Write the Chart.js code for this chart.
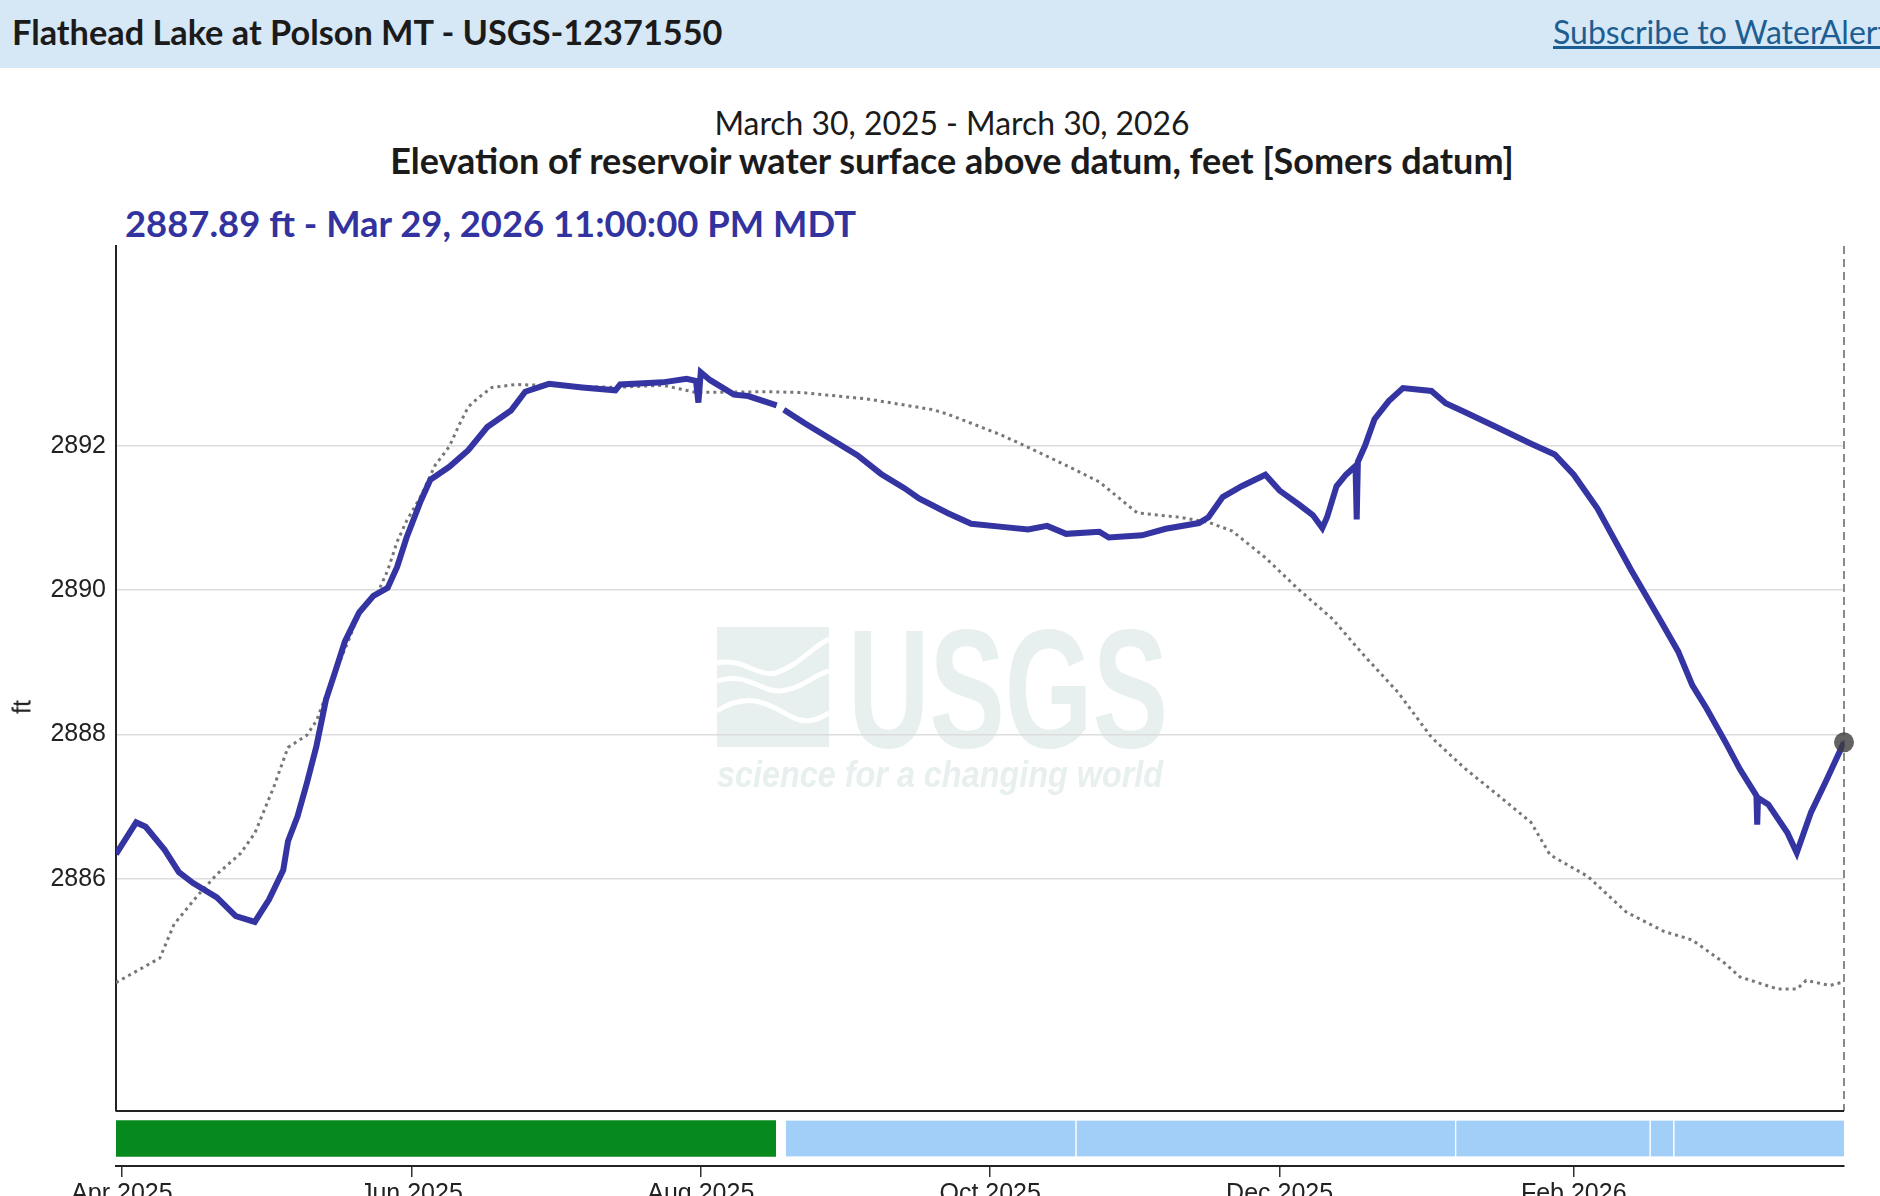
<!DOCTYPE html>
<html>
<head>
<meta charset="utf-8">
<title>Flathead Lake at Polson MT - USGS-12371550</title>
<script src="https://cdn.jsdelivr.net/npm/chart.js@4.4.1/dist/chart.umd.min.js"></script>
<style>
  html, body { margin: 0; padding: 0; background: #fff; width: 1880px; height: 1196px; overflow: hidden; font-family: Lato, "Open Sans", sans-serif; }
  #header { position: absolute; left: 0; top: 0; width: 1880px; height: 68px; background: #d6e7f6; }
  #siteName { position: absolute; left: 12px; top: 15px; font-weight: 700; font-size: 34.3px; line-height: 1; color: #1b1b1b; white-space: nowrap; }
  #subscribe { position: absolute; left: 1553px; top: 16px; font-size: 32px; line-height: 1; color: #1d5e92; text-decoration: underline; white-space: nowrap; }
  .center { position: absolute; left: 0; width: 1904px; text-align: center; line-height: 1; white-space: nowrap; color: #1b1b1b; }
  #dates { top: 108px; font-size: 31.9px; }
  #paramTitle { top: 142px; font-size: 36px; font-weight: 700; }
  #current { position: absolute; left: 125px; top: 205px; font-size: 36.4px; font-weight: 700; line-height: 1; color: #33339f; white-space: nowrap; }
  #yTitle { position: absolute; left: 22px; top: 707px; font-family: "Liberation Sans", Arial, sans-serif; font-size: 25px; line-height: 1; color: #222;
            transform: translate(-50%, -50%) rotate(-90deg); white-space: nowrap; }
  #chartBox { position: absolute; left: 0; top: 200px; width: 1880px; height: 996px; }
</style>
</head>
<body>
<div id="header">
  <div id="siteName">Flathead Lake at Polson MT - USGS-12371550</div>
  <div id="subscribe">Subscribe to WaterAlert</div>
</div>
<div id="dates" class="center">March 30, 2025 - March 30, 2026</div>
<div id="paramTitle" class="center">Elevation of reservoir water surface above datum, feet [Somers datum]</div>
<div id="current">2887.89 ft - Mar 29, 2026 11:00:00 PM MDT</div>
<div id="chartBox"><canvas id="graphCanvas" width="1880" height="996"></canvas></div>
<div id="yTitle">ft</div>

<script>
//--------------------- DATA -------------------------
// current year, lake elevation (ft)
const stageDates = [
  '2025-03-30T18:00', '2025-04-04', '2025-04-06', '2025-04-10', '2025-04-13', '2025-04-16', '2025-04-21', '2025-04-25',
  '2025-04-29', '2025-05-02', '2025-05-05', '2025-05-06', '2025-05-08', '2025-05-10', '2025-05-12', '2025-05-14',
  '2025-05-16', '2025-05-18', '2025-05-21', '2025-05-24', '2025-05-27', '2025-05-29', '2025-05-31', '2025-06-03',
  '2025-06-05', '2025-06-09', '2025-06-13', '2025-06-17', '2025-06-22', '2025-06-25', '2025-06-30', '2025-07-07',
  '2025-07-14', '2025-07-15', '2025-07-24', '2025-07-29', '2025-07-31', '2025-07-31T12:00', '2025-08-01', '2025-08-03',
  '2025-08-08', '2025-08-11', '2025-08-17', '2025-08-17T12:00', '2025-08-18T12:00', '2025-08-19', '2025-08-23', '2025-08-29',
  '2025-09-03', '2025-09-08', '2025-09-13', '2025-09-16', '2025-09-22', '2025-09-27', '2025-10-03', '2025-10-09',
  '2025-10-13', '2025-10-17', '2025-10-24', '2025-10-26', '2025-11-02', '2025-11-07', '2025-11-14', '2025-11-16',
  '2025-11-19', '2025-11-23', '2025-11-28', '2025-12-01', '2025-12-05', '2025-12-08', '2025-12-10', '2025-12-11',
  '2025-12-13', '2025-12-15', '2025-12-17', '2025-12-17T06:00', '2025-12-17T12:00', '2025-12-19', '2025-12-21', '2025-12-24',
  '2025-12-27', '2026-01-02', '2026-01-05', '2026-01-09', '2026-01-16', '2026-01-23', '2026-01-28', '2026-02-01',
  '2026-02-06', '2026-02-13', '2026-02-19', '2026-02-23', '2026-02-26', '2026-03-01', '2026-03-05', '2026-03-08',
  '2026-03-11T12:00', '2026-03-11T16:00', '2026-03-11T20:00', '2026-03-14', '2026-03-18', '2026-03-20', '2026-03-23', '2026-03-26',
  '2026-03-29T23:00'
];
const stageValues = [
  2886.34, 2886.78, 2886.72, 2886.40, 2886.09, 2885.94, 2885.74, 2885.48,
  2885.40, 2885.71, 2886.12, 2886.52, 2886.86, 2887.33, 2887.84, 2888.48,
  2888.88, 2889.29, 2889.69, 2889.92, 2890.03, 2890.32, 2890.73, 2891.24,
  2891.53, 2891.71, 2891.94, 2892.26, 2892.49, 2892.75, 2892.86, 2892.81,
  2892.77, 2892.85, 2892.88, 2892.93, 2892.90, 2892.60, 2893.02, 2892.91,
  2892.71, 2892.69, 2892.56, null, 2892.50, 2892.48, 2892.31, 2892.07,
  2891.87, 2891.61, 2891.41, 2891.27, 2891.07, 2890.92, 2890.88, 2890.84,
  2890.89, 2890.78, 2890.81, 2890.73, 2890.76, 2890.85, 2890.93, 2891.01,
  2891.29, 2891.44, 2891.60, 2891.38, 2891.19, 2891.04, 2890.86, 2891.01,
  2891.44, 2891.60, 2891.72, 2890.98, 2891.78, 2892.00, 2892.37, 2892.62,
  2892.80, 2892.76, 2892.59, 2892.47, 2892.25, 2892.03, 2891.88, 2891.60,
  2891.13, 2890.29, 2889.61, 2889.15, 2888.68, 2888.36, 2887.89, 2887.52,
  2887.15, 2886.75, 2887.12, 2887.03, 2886.64, 2886.36, 2886.92, 2887.33,
  2887.89
];

// previous year, shown as dotted grey line
const lastYearDates = [
  '2025-03-30T18:00', '2025-04-09', '2025-04-12', '2025-04-17', '2025-04-21', '2025-04-26', '2025-04-29', '2025-05-03',
  '2025-05-06', '2025-05-10', '2025-05-12', '2025-05-15', '2025-05-19', '2025-05-21', '2025-05-25', '2025-05-27',
  '2025-05-29', '2025-05-31', '2025-06-03', '2025-06-06', '2025-06-09', '2025-06-11', '2025-06-13', '2025-06-15',
  '2025-06-18', '2025-06-23', '2025-07-14', '2025-07-24', '2025-07-31', '2025-08-15', '2025-08-22', '2025-09-05',
  '2025-09-19', '2025-09-22', '2025-10-03', '2025-10-09', '2025-10-17', '2025-10-24', '2025-11-01', '2025-11-10',
  '2025-11-16', '2025-11-21', '2025-11-28', '2025-12-05', '2025-12-12', '2025-12-19', '2025-12-26', '2026-01-02',
  '2026-01-09', '2026-01-16', '2026-01-23', '2026-01-27', '2026-02-04', '2026-02-12', '2026-02-20', '2026-02-26',
  '2026-03-05', '2026-03-08', '2026-03-16', '2026-03-20', '2026-03-22', '2026-03-27', '2026-03-29T23:00'
];
const lastYearValues = [
  2884.56, 2884.90, 2885.37, 2885.77, 2886.06, 2886.35, 2886.63, 2887.27,
  2887.82, 2887.99, 2888.19, 2888.71, 2889.34, 2889.69, 2889.98, 2890.27,
  2890.67, 2890.96, 2891.30, 2891.73, 2891.99, 2892.28, 2892.54, 2892.66,
  2892.81, 2892.85, 2892.81, 2892.84, 2892.74, 2892.75, 2892.74, 2892.65,
  2892.50, 2892.44, 2892.16, 2891.98, 2891.73, 2891.50, 2891.07, 2891.01,
  2890.94, 2890.82, 2890.45, 2890.01, 2889.61, 2889.08, 2888.58, 2887.96,
  2887.53, 2887.16, 2886.78, 2886.33, 2886.03, 2885.54, 2885.27, 2885.15,
  2884.82, 2884.64, 2884.47, 2884.47, 2884.59, 2884.52, 2884.57
];

// approval status periods (A = approved, P = provisional)
const approvalStart = ['2025-03-30T18:00', '2025-08-18T17:00', '2025-10-19', '2026-01-07', '2026-02-17', '2026-02-22'];
const approvalEnd   = ['2025-08-16T19:00', '2025-10-19', '2026-01-07', '2026-02-17', '2026-02-22', '2026-03-29T23:00'];
const approvalCode  = ['A', 'P', 'P', 'P', 'P', 'P'];

// axes
const xStart = '2025-03-30T18:00';
const xEnd = '2026-03-29T23:00';
const yTicks = [2886, 2888, 2890, 2892];
const xTickDates = ['2025-04-01', '2025-06-01', '2025-08-01', '2025-10-01', '2025-12-01', '2026-02-01'];
const xTickLabels = ['Apr 2025', 'Jun 2025', 'Aug 2025', 'Oct 2025', 'Dec 2025', 'Feb 2026'];

// date string -> days
function day(s) {
  const [d, t] = s.split('T');
  const [y, m, dd] = d.split('-').map(Number);
  const h = t ? Number(t.split(':')[0]) : 0;
  return Date.UTC(y, m - 1, dd, h) / 86400000;
}
function points(dates, values) {
  return dates.map((d, i) => ({ x: day(d), y: values[i] }));
}

//--------------------- PLUGINS -------------------------
// faint USGS logo behind the grid
const watermark = {
  id: 'watermark',
  beforeDraw(chart) {
    const ctx = chart.ctx;
    ctx.save();
    ctx.fillStyle = '#e7f0ee';
    // emblem
    const ex = 717, ey = 427, ew = 112, eh = 120;
    ctx.fillRect(ex, ey, ew, eh);
    ctx.strokeStyle = '#fff';
    ctx.lineWidth = 5;
    const waves = [
      [[0, 36], [25, 30], [40, 50], [58, 46], [80, 40], [95, 20], [112, 12]],
      [[0, 54], [30, 44], [45, 66], [64, 64], [85, 62], [100, 46], [112, 44]],
      [[0, 84], [35, 62], [55, 80], [75, 90], [90, 98], [102, 92], [112, 86]]
    ];
    waves.forEach(w => {
      ctx.beginPath();
      ctx.moveTo(ex + w[0][0], ey + w[0][1]);
      ctx.bezierCurveTo(ex + w[1][0], ey + w[1][1], ex + w[2][0], ey + w[2][1], ex + w[3][0], ey + w[3][1]);
      ctx.bezierCurveTo(ex + w[4][0], ey + w[4][1], ex + w[5][0], ey + w[5][1], ex + w[6][0], ey + w[6][1]);
      ctx.stroke();
    });
    // USGS letters
    ctx.font = 'bold 168px "Liberation Sans", Arial, sans-serif';
    ctx.textBaseline = 'alphabetic';
    let w = ctx.measureText('USGS').width;
    ctx.save();
    ctx.translate(848, 547);
    ctx.scale(320 / w, 1);
    ctx.fillText('USGS', 0, 0);
    ctx.restore();
    // tag line
    ctx.font = 'italic bold 37px "Liberation Sans", Arial, sans-serif';
    w = ctx.measureText('science for a changing world').width;
    ctx.translate(717, 587);
    ctx.scale(446 / w, 1);
    ctx.fillText('science for a changing world', 0, 0);
    ctx.restore();
  }
};

// dashed line at the latest value, and the frame line under the plot
const lastLine = {
  id: 'lastLine',
  beforeDatasetsDraw(chart) {
    const ctx = chart.ctx;
    const yScale = chart.scales.y;
    const x = chart.scales.x.getPixelForValue(day(stageDates[stageDates.length - 1]));
    ctx.save();
    ctx.strokeStyle = '#8a8a8a';
    ctx.lineWidth = 2;
    ctx.setLineDash([8, 5]);
    ctx.beginPath();
    ctx.moveTo(x, chart.chartArea.top);
    ctx.lineTo(x, yScale.bottom);
    ctx.stroke();
    ctx.setLineDash([]);
    ctx.strokeStyle = '#222';
    ctx.lineWidth = 2;
    ctx.beginPath();
    ctx.moveTo(chart.chartArea.left, yScale.bottom);
    ctx.lineTo(chart.chartArea.right, yScale.bottom);
    ctx.stroke();
    ctx.restore();
  }
};

//--------------------- CHART -------------------------
const axisFont = { family: '"Liberation Sans", Arial, sans-serif', size: 25 };
const lastIdx = stageDates.length - 1;

const data = {
  datasets: [
    {
      type: 'scatter',
      data: [{ x: day(stageDates[lastIdx]), y: stageValues[lastIdx] }],
      backgroundColor: 'rgba(60,60,60,0.8)',
      borderWidth: 0,
      pointRadius: 10,
      clip: false,
      xAxisID: 'x', yAxisID: 'y',
      order: 1
    },
    {
      data: points(stageDates, stageValues),
      borderColor: '#3434a2',
      borderWidth: 6,
      pointRadius: 0,
      spanGaps: false,
      xAxisID: 'x', yAxisID: 'y',
      order: 2
    },
    {
      data: points(lastYearDates, lastYearValues),
      borderColor: '#777',
      borderWidth: 3,
      borderDash: [3, 4],
      pointRadius: 0,
      xAxisID: 'x', yAxisID: 'y',
      order: 3
    },
    {
      type: 'bar',
      indexAxis: 'y',
      data: approvalStart.map((s, i) => ({ x: [day(s), day(approvalEnd[i])], y: 0.5 })),
      backgroundColor: approvalCode.map(c => c === 'A' ? '#068a1d' : '#a2cff8'),
      borderColor: 'rgba(255,255,255,0.8)',
      borderWidth: approvalCode.map(c => c === 'A' ? 0 : { left: 1.5, right: 0, top: 0, bottom: 0 }),
      borderSkipped: false,
      barThickness: 36,
      xAxisID: 'x', yAxisID: 'yStatus',
      order: 4
    }
  ]
};

const config = {
  type: 'line',
  data,
  plugins: [watermark, lastLine],
  options: {
    responsive: false,
    animation: false,
    layout: { padding: { top: 46, right: 36, left: 0, bottom: 0 } },
    plugins: { legend: { display: false }, tooltip: { enabled: false } },
    scales: {
      x: {
        type: 'linear',
        min: day(xStart),
        max: day(xEnd),
        afterFit: s => { s.height = 30; },
        afterBuildTicks: s => { s.ticks = xTickDates.map(d => ({ value: day(d) })); },
        ticks: {
          callback: (v, i) => xTickLabels[i],
          font: axisFont, color: '#222', padding: 2, maxRotation: 0, autoSkip: false
        },
        grid: { display: true, drawOnChartArea: false, drawTicks: true, tickLength: 11, color: '#333', lineWidth: 1.5 },
        border: { display: true, color: '#222', width: 2 }
      },
      // status band below the plot (listed first: left stacks are placed in reverse)
      yStatus: {
        type: 'linear',
        position: 'left',
        stack: 'v',
        stackWeight: 55,
        min: 0,
        max: 1,
        afterFit: s => { s.width = 116; },
        ticks: { display: false },
        grid: { display: false },
        border: { display: false }
      },
      y: {
        type: 'linear',
        position: 'left',
        stack: 'v',
        stackWeight: 865,
        min: 2882.78,
        max: 2894.77,
        afterFit: s => { s.width = 116; },
        afterBuildTicks: s => { s.ticks = yTicks.map(v => ({ value: v })); },
        ticks: { callback: v => String(v), font: axisFont, color: '#222', padding: 10 },
        grid: { color: '#dcdcdc', lineWidth: 1.5, drawTicks: false },
        border: { display: true, color: '#222', width: 2 }
      }
    }
  }
};

const graphCanvas = new Chart(
  document.getElementById('graphCanvas').getContext('2d'),
  config
);
</script>
</body>
</html>
